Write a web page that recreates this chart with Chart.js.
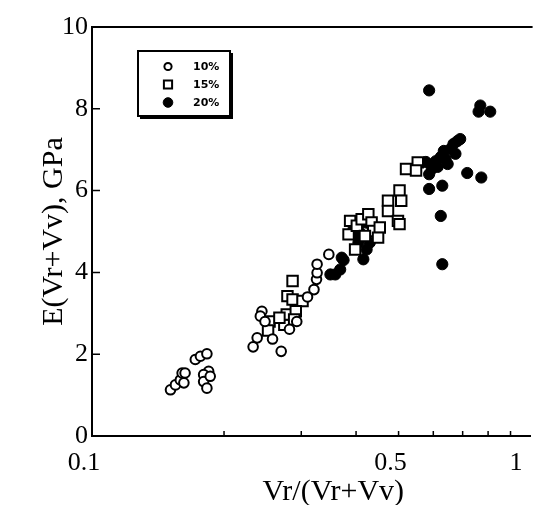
<!DOCTYPE html>
<html>
<head>
<meta charset="utf-8">
<script src="https://cdn.jsdelivr.net/npm/chart.js@4"></script>
<style>
  html, body { margin: 0; padding: 0; background: #fff; overflow: hidden; }
  #wrap { position: relative; width: 540px; height: 505px; }
</style>
</head>
<body>
<div id="wrap"><canvas id="chart" width="540" height="505"></canvas></div>
<script>
// === Data ===
const ratio10 = [0.151, 0.155, 0.159, 0.1605, 0.163, 0.162, 0.172, 0.1767, 0.1828, 0.1845, 0.1797, 0.1797, 0.1828, 0.186,
    0.233, 0.238, 0.258, 0.270, 0.244, 0.242, 0.282, 0.3207, 0.325, 0.326, 0.326, 0.3467, 0.248, 0.293, 0.31];
const modulus10 = [1.13, 1.25, 1.37, 1.54, 1.54, 1.30, 1.87, 1.95, 2.01, 1.58, 1.50, 1.33, 1.17, 1.46,
    2.18, 2.40, 2.37, 2.07, 3.05, 2.93, 2.61, 3.58, 3.83, 3.99, 4.20, 4.44, 2.80, 2.80, 3.40];

const ratio15 = [0.254, 0.252, 0.2745, 0.278, 0.2866, 0.279, 0.2866, 0.302, 0.2915, 0.289, 0.2675,
    0.3845, 0.3877, 0.398, 0.4016, 0.412, 0.4266, 0.434, 0.4377, 0.453, 0.449, 0.419,
    0.473, 0.473, 0.5025, 0.507, 0.4984, 0.5025, 0.520, 0.553, 0.548];
const modulus15 = [2.80, 2.58, 2.72, 2.97, 3.79, 3.42, 3.34, 3.30, 3.05, 2.85, 2.89,
    4.93, 5.26, 4.56, 5.14, 5.30, 5.42, 5.22, 5.01, 5.10, 4.85, 4.89,
    5.75, 5.50, 6.00, 5.75, 5.26, 5.18, 6.53, 6.69, 6.49];

const ratio20 = [0.3496, 0.3587, 0.368, 0.3746, 0.371, 0.4016, 0.405, 0.4156, 0.4228, 0.4156, 0.408, 0.430, 0.3947,
    0.587, 0.768, 0.761, 0.809, 0.717, 0.772, 0.587, 0.629, 0.624, 0.629,
    0.577, 0.5955, 0.587, 0.608, 0.624, 0.640, 0.634, 0.657, 0.667, 0.681, 0.691, 0.674, 0.614, 0.647, 0.600];
const modulus20 = [3.95, 3.95, 4.07, 4.30, 4.36, 4.89, 4.73, 4.32, 4.56, 5.22, 4.97, 4.73, 5.06,
    8.45, 8.08, 7.93, 7.93, 6.43, 6.32, 6.04, 6.12, 5.38, 4.20,
    6.70, 6.53, 6.40, 6.72, 6.82, 6.77, 6.97, 7.02, 7.14, 7.21, 7.26, 6.90, 6.58, 6.65, 6.65];

const SERIES_LABELS = ['10%', '15%', '20%'];
const X_TICKS = [0.1, 0.5, 1];
const X_LABELS = ['0.1', '0.5', '1  '];
const X_MINOR = [0.2, 0.3, 0.4, 0.5, 0.6, 0.7, 0.8, 0.9];
const Y_TICKS = [0, 2, 4, 6, 8, 10];
const X_TITLE = 'Vr/(Vr+Vv)';
const Y_TITLE = 'E(Vr+Vv), GPa';

const SERIF = '"Liberation Serif", "Times New Roman", serif';

const zip = (xs, ys) => xs.map((x, i) => ({ x, y: ys[i] }));

// legend + frame + inward ticks, drawn on top
const framePlugin = {
    id: 'frame',
    afterDraw(chart) {
        const { ctx, chartArea: a, scales: { x, y } } = chart;
        ctx.save();
        ctx.strokeStyle = '#000';
        ctx.lineWidth = 2;
        ctx.beginPath();
        ctx.moveTo(a.left - 1, a.top);
        ctx.lineTo(a.right + 2, a.top);
        ctx.stroke();

        ctx.lineWidth = 1.5;
        ctx.beginPath();
        X_MINOR.forEach(v => {
            const px = x.getPixelForValue(v);
            ctx.moveTo(px, a.bottom);
            ctx.lineTo(px, a.bottom - 5);
        });
        Y_TICKS.forEach(v => {
            const py = y.getPixelForValue(v);
            ctx.moveTo(a.left, py);
            ctx.lineTo(a.left + 8, py);
        });
        ctx.stroke();

        // x title
        ctx.fillStyle = '#000';
        ctx.font = `30px ${SERIF}`;
        ctx.textAlign = 'center';
        ctx.textBaseline = 'middle';
        ctx.fillText(X_TITLE, (a.left + a.right) / 2 + 22, 492);

        // legend box
        const bx = a.left + 46, by = a.top + 24, bw = 92, bh = 65;
        ctx.fillStyle = '#fff';
        ctx.fillRect(bx, by, bw, bh);
        ctx.fillStyle = '#000';
        ctx.fillRect(bx + bw, by + 2, 3, bh + 1);
        ctx.fillRect(bx + 2, by + bh, bw + 1, 3);
        ctx.lineWidth = 2;
        ctx.strokeRect(bx, by, bw, bh);

        const legendStyle = [
            { pointStyle: 'circle', radius: 3.6, borderWidth: 2, fill: '#fff' },
            { pointStyle: 'rect', radius: 5.8, borderWidth: 2, fill: '#fff' },
            { pointStyle: 'circle', radius: 4.8, borderWidth: 1, fill: '#000' }
        ];
        ctx.font = `bold 11px "DejaVu Sans", sans-serif`;
        ctx.textAlign = 'left';
        SERIES_LABELS.forEach((lab, i) => {
            const ry = by + 15.5 + i * 18;
            const st = legendStyle[i];
            ctx.fillStyle = st.fill;
            ctx.strokeStyle = '#000';
            ctx.lineWidth = st.borderWidth;
            Chart.helpers.drawPoint(ctx, st, bx + 30, ry);
            ctx.fillStyle = '#000';
            ctx.fillText(lab, bx + 55, ry + 0.5);
        });
        ctx.restore();
    }
};

new Chart(document.getElementById('chart'), {
    type: 'scatter',
    data: {
        datasets: [{
            label: SERIES_LABELS[0],
            data: zip(ratio10, modulus10),
            pointStyle: 'circle',
            pointRadius: 4.8,
            pointBorderWidth: 2,
            pointBackgroundColor: '#fff',
            pointBorderColor: '#000'
        }, {
            label: SERIES_LABELS[1],
            data: zip(ratio15, modulus15),
            pointStyle: 'rect',
            pointRadius: 7.4,
            pointBorderWidth: 2,
            pointBackgroundColor: '#fff',
            pointBorderColor: '#000'
        }, {
            label: SERIES_LABELS[2],
            data: zip(ratio20, modulus20),
            pointStyle: 'circle',
            pointRadius: 5.6,
            pointBorderWidth: 1,
            pointBackgroundColor: '#000',
            pointBorderColor: '#000'
        }]
    },
    options: {
        responsive: false,
        animation: false,
        layout: { padding: { top: 27, right: 4, left: 0, bottom: 0 } },
        plugins: {
            legend: { display: false },
            tooltip: { enabled: false }
        },
        scales: {
            x: {
                type: 'logarithmic',
                min: 0.1,
                max: 1,
                afterBuildTicks: s => { s.ticks = X_TICKS.map(v => ({ value: v })); },
                afterFit: s => { s.height = 69; s.paddingLeft = 0; s.paddingRight = 0; },
                ticks: {
                    callback: (v, i) => X_LABELS[i],
                    font: { family: SERIF, size: 26 },
                    color: '#000',
                    padding: 12,
                    labelOffset: -8,
                    maxRotation: 0,
                    autoSkip: false
                },
                grid: { display: false, drawTicks: false },
                border: { display: true, color: '#000', width: 2 }
            },
            y: {
                min: 0,
                max: 10,
                afterBuildTicks: s => { s.ticks = Y_TICKS.map(v => ({ value: v })); },
                afterFit: s => { s.width = 92; s.paddingTop = 0; s.paddingBottom = 0; },
                ticks: {
                    font: { family: SERIF, size: 26 },
                    color: '#000',
                    padding: 4
                },
                grid: { display: false, drawTicks: false },
                border: { display: true, color: '#000', width: 2 },
                title: {
                    display: true,
                    text: Y_TITLE,
                    font: { family: SERIF, size: 30 },
                    color: '#000',
                    padding: { top: 36, bottom: 0 }
                }
            }
        }
    },
    plugins: [framePlugin]
});
</script>
</body>
</html>
